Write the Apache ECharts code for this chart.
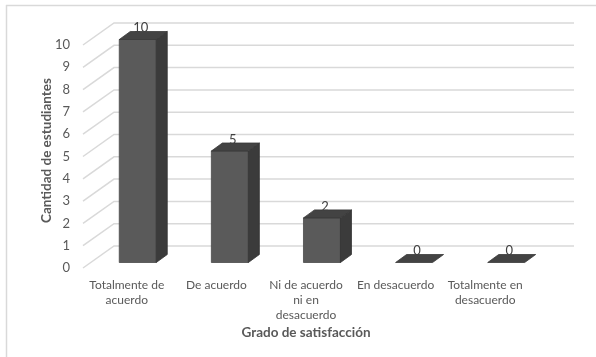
<!DOCTYPE html>
<html>
<head>
<meta charset="utf-8">
<script src="https://cdn.jsdelivr.net/npm/echarts@6/dist/echarts.min.js"></script>
<style>
  html, body { margin: 0; padding: 0; background: #fff; }
  #chart { width: 596px; height: 357px; }
</style>
</head>
<body>
<div id="chart"></div>
<script>
// Survey results: number of students per satisfaction level
const categories = [
  'Totalmente de\nacuerdo',
  'De acuerdo',
  'Ni de acuerdo\nni en\ndesacuerdo',
  'En desacuerdo',
  'Totalmente en\ndesacuerdo'
];
const students = [10, 5, 2, 0, 0];
const yTicks = [0, 1, 2, 3, 4, 5, 6, 7, 8, 9, 10];

// 3D look: offsets of the back wall and the bar depth, in pixels
const WALL_DX = 32, WALL_DY = -22, WALL_EXTRA_R = 44;
const BAR_W = 37, BAR_DX = 11, BAR_DY = -8;
const BAR_FACE_DY = -5.5, BAR_SPREAD = 1.028, BAR_SHIFT = 9.7;

const FONT = 'Lato, "Open Sans", sans-serif';
const TEXT_COLOR = '#595959';

const chart = echarts.init(document.getElementById('chart'), null, { renderer: 'canvas' });

chart.setOption({
  animation: false,
  backgroundColor: '#ffffff',
  graphic: [
    { type: 'line', silent: true, shape: { x1: 6, y1: 5.5, x2: 596, y2: 5.5 }, style: { stroke: '#d9d9d9', lineWidth: 1.5 } },
    { type: 'line', silent: true, shape: { x1: 6.5, y1: 5, x2: 6.5, y2: 357 }, style: { stroke: '#d9d9d9', lineWidth: 1.5 } }
  ],
  grid: { left: 82, right: 66, top: 45, bottom: 89 },
  xAxis: {
    type: 'category',
    data: categories,
    boundaryGap: true,
    axisLine: { show: false },
    axisTick: { show: false },
    axisLabel: {
      interval: 0,
      margin: 10,
      color: TEXT_COLOR,
      fontFamily: FONT,
      fontSize: 12,
      lineHeight: 15
    },
    name: 'Grado de satisfacción',
    nameLocation: 'middle',
    nameGap: 58,
    nameMoveOverlap: false,
    nameTextStyle: { color: TEXT_COLOR, fontFamily: FONT, fontSize: 13.5, fontWeight: 'bold' }
  },
  yAxis: {
    type: 'value',
    min: 0,
    max: 10,
    interval: 1,
    axisLine: { show: false },
    axisTick: { show: false },
    splitLine: { show: false },
    axisLabel: { margin: 12, color: TEXT_COLOR, fontFamily: FONT, fontSize: 13 },
    name: 'Cantidad de estudiantes',
    nameLocation: 'middle',
    nameGap: 28,
    nameMoveOverlap: false,
    nameTextStyle: { color: TEXT_COLOR, fontFamily: FONT, fontSize: 13.5, fontWeight: 'bold', padding: [0, 0, 0, 12] }
  },
  series: [
    {
      // back wall gridlines with their slanted lead-in from each tick label
      type: 'custom',
      silent: true,
      z: 1,
      data: yTicks.map(v => [0, v]),
      renderItem(params, api) {
        const cs = params.coordSys;
        const y = api.coord([0, api.value(1)])[1];
        const left = cs.x, right = cs.x + cs.width;
        return {
          type: 'polyline',
          shape: {
            points: [
              [left + 1, y],
              [left + WALL_DX, y + WALL_DY],
              [right + WALL_EXTRA_R, y + WALL_DY]
            ]
          },
          style: { stroke: '#d9d9d9', lineWidth: 1.5, fill: null }
        };
      }
    },
    {
      // 3D columns: front face, side and top
      type: 'custom',
      silent: true,
      z: 2,
      data: students.map((v, i) => [i, v]),
      renderItem(params, api) {
        const cs = params.coordSys;
        const i = api.value(0), v = api.value(1);
        const base = api.coord([i, 0]);
        const top = api.coord([i, v]);
        const cx = cs.x + (base[0] - cs.x) * BAR_SPREAD + BAR_SHIFT;
        const y0 = base[1] + BAR_FACE_DY;
        const y1 = top[1] + BAR_FACE_DY;
        const xl = cx - BAR_W / 2, xr = cx + BAR_W / 2;
        const children = [];
        if (y0 - y1 > 0.5) {
          children.push({
            type: 'polygon',
            shape: { points: [[xl, y1], [xr, y1], [xr, y0], [xl, y0]] },
            style: { fill: '#5a5a5a', stroke: '#4a4a4a', lineWidth: 0.8 }
          });
          children.push({
            type: 'polygon',
            shape: { points: [[xr, y1], [xr + BAR_DX, y1 + BAR_DY], [xr + BAR_DX, y0 + BAR_DY], [xr, y0]] },
            style: { fill: '#3b3b3b', stroke: '#333333', lineWidth: 0.8 }
          });
        }
        children.push({
          type: 'polygon',
          shape: { points: [[xl, y1], [xl + BAR_DX, y1 + BAR_DY], [xr + BAR_DX, y1 + BAR_DY], [xr, y1]] },
          style: { fill: '#434343', stroke: '#383838', lineWidth: 0.8 }
        });
        children.push({
          type: 'text',
          style: {
            text: String(v),
            x: cx + 3,
            y: y1 + BAR_DY + 3,
            align: 'center',
            verticalAlign: 'bottom',
            fill: '#404040',
            font: '13px ' + FONT
          }
        });
        return { type: 'group', children };
      }
    }
  ]
});
</script>
</body>
</html>
